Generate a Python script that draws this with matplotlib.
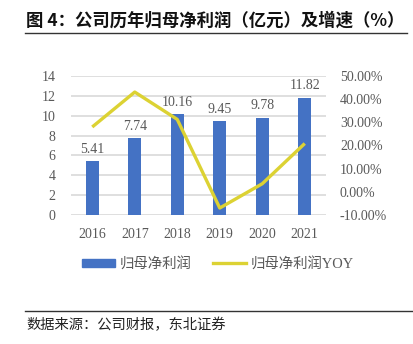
import matplotlib
matplotlib.use("Agg")
import matplotlib.pyplot as plt
from matplotlib.lines import Line2D
from matplotlib.patches import Patch

years = ["2016", "2017", "2018", "2019", "2020", "2021"]
net_profit = [5.41, 7.74, 10.16, 9.45, 9.78, 11.82]
yoy_pct = [28.0, 43.07, 31.27, -6.99, 3.49, 20.86]
left_ticks = [0, 2, 4, 6, 8, 10, 12, 14]
right_ticks = [-10, 0, 10, 20, 30, 40, 50]

title = "图 4：公司历年归母净利润（亿元）及增速（%）"
source = "数据来源：公司财报，东北证券"
bar_label = "归母净利润"
line_label = "归母净利润YOY"

BLUE = "#4472C4"
YELLOW = "#DCD233"
GRAY = "#595959"
CJK = ["Noto Sans CJK SC", "DejaVu Sans"]
SERIF = ["Liberation Serif", "Noto Sans CJK SC"]

W, H = 413, 344
fig = plt.figure(figsize=(W / 100, H / 100), dpi=100)

# plot area in pixel coordinates
x0, x1, ytop, ybot = 71, 326, 76, 215
ax = fig.add_axes([x0 / W, 1 - ybot / H, (x1 - x0) / W, (ybot - ytop) / H])
ax2 = ax.twinx()

xs = list(range(len(years)))
ax.bar(xs, net_profit, width=0.3, color=BLUE, zorder=2)
for x, v in zip(xs, net_profit):
    ax.text(x, v + 0.55, f"{v:.2f}", ha="center", va="bottom",
            fontsize=10, color=GRAY, family=SERIF)

ax.set_ylim(0, 14)
ax.set_yticks(left_ticks)
ax.set_xlim(-0.5, len(years) - 0.5)
ax.set_xticks(xs)
ax.set_xticklabels(years)
ax.grid(axis="y", color="#D9D9D9", linewidth=1.2, zorder=0)
ax.set_axisbelow(True)

ax2.plot(xs, yoy_pct, color=YELLOW, linewidth=2.4, solid_capstyle="butt", zorder=3)
ax2.set_ylim(-10, 50)
ax2.set_yticks(right_ticks)
ax2.set_yticklabels([f"{t:.2f}%" for t in right_ticks])

for a in (ax, ax2):
    for s in a.spines.values():
        s.set_visible(False)
    a.tick_params(length=0, labelsize=10, labelcolor=GRAY)
    for lbl in a.get_xticklabels() + a.get_yticklabels():
        lbl.set_family(SERIF)
ax.tick_params(axis="y", pad=11)
ax.tick_params(axis="x", pad=9)
ax2.tick_params(axis="y", pad=10)

handles = [Patch(color=BLUE), Line2D([0], [0], color=YELLOW, linewidth=2.4)]
leg = fig.legend(handles, [bar_label, line_label], loc="center",
                 bbox_to_anchor=(218 / W, 1 - 264 / H), ncol=2, frameon=False,
                 prop={"family": SERIF, "size": 10.4}, handlelength=2.3,
                 handleheight=0.45, columnspacing=1.5, handletextpad=0.3)
for t in leg.get_texts():
    t.set_color(GRAY)

fig.text(26 / W, 1 - 21 / H, title, fontsize=12.5, fontweight="bold",
         family=CJK, va="center", ha="left", color="#111111")
fig.add_artist(Line2D([25 / W, 407 / W], [1 - 33 / H, 1 - 33 / H],
                      color="#333333", linewidth=1.0))
fig.add_artist(Line2D([25 / W, 1.0], [1 - 311 / H, 1 - 311 / H],
                      color="#333333", linewidth=1.0))
fig.text(26 / W, 1 - 325 / H, source, fontsize=10.3, family=CJK,
         va="center", ha="left", color="#222222")

fig.savefig("out.png", dpi=100, facecolor="white")
